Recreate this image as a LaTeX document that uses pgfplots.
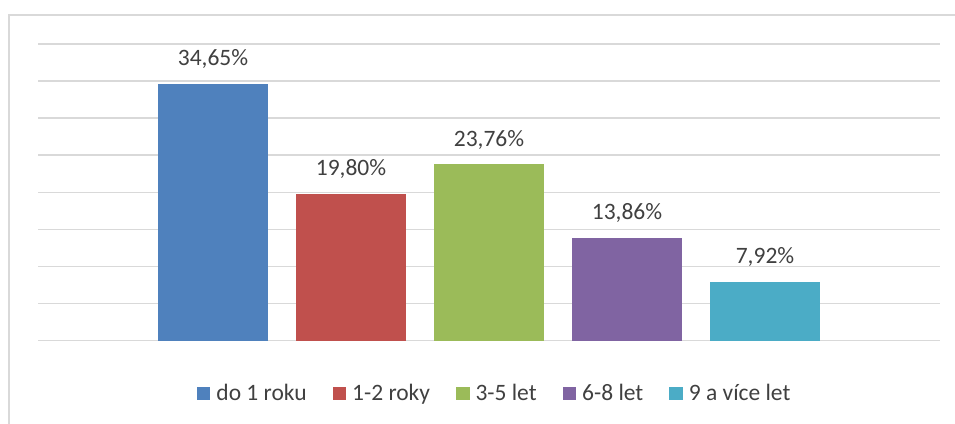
\documentclass[border=0pt]{standalone}
\usepackage{pgfplots}
\pgfplotsset{compat=1.18}
\usepackage{fontspec}
\setmainfont{Carlito}
\definecolor{c1}{HTML}{4F81BD}
\definecolor{c2}{HTML}{C0504D}
\definecolor{c3}{HTML}{9BBB59}
\definecolor{c4}{HTML}{8064A2}
\definecolor{c5}{HTML}{4BACC6}
\definecolor{txt}{HTML}{404040}
\definecolor{gridc}{HTML}{D9D9D9}
\begin{document}
\begin{tikzpicture}
\useasboundingbox (0,0) rectangle (955bp,-424bp);
\draw[gridc, line width=1.5bp] (9bp,-426bp) -- (9bp,-15bp) -- (957bp,-15bp);
\begin{axis}[
  at={(38bp,-340.5bp)}, anchor=south west,
  scale only axis, width=902bp, height=296.5bp,
  xmin=-1.268, xmax=5.268, ymin=0, ymax=40,
  ytick={0,5,...,40}, yticklabels={}, xtick=\empty,
  ymajorgrids, major grid style={gridc, line width=1.5bp},
  axis line style={draw=none}, tick style={draw=none},
  ybar, bar width=110bp, bar shift=0pt,
  clip=false,
  nodes near coords={\pgfmathprintnumber[fixed,fixed zerofill,precision=2,use comma,assume math mode=true]{\pgfplotspointmeta}\%},
  every node near coord/.append style={font=\fontsize{23.5bp}{28bp}\selectfont, text=txt, anchor=base, yshift=18bp, inner sep=0pt},
  legend columns=5,
  legend cell align=left,
  legend style={draw=none, fill=none, at={(0.5052,-0.1788)}, anchor=center,
    font=\fontsize{23.5bp}{28bp}\selectfont, text=txt, inner sep=0pt,
    nodes={inner sep=0pt},
    /tikz/every odd column/.append style={column sep=6bp},
    /tikz/every even column/.append style={column sep=26bp}},
  legend image code/.code={\fill[#1,draw=none] (0bp,-6.75bp) rectangle (13.5bp,6.75bp);},
]
\addplot[fill=c1, draw=none] coordinates {(0,34.65)};
\addplot[fill=c2, draw=none] coordinates {(1,19.80)};
\addplot[fill=c3, draw=none] coordinates {(2,23.76)};
\addplot[fill=c4, draw=none] coordinates {(3,13.86)};
\addplot[fill=c5, draw=none] coordinates {(4,7.92)};
\legend{do 1 roku, 1-2 roky, 3-5 let, 6-8 let, 9 a více let}
\end{axis}
\end{tikzpicture}
\end{document}
